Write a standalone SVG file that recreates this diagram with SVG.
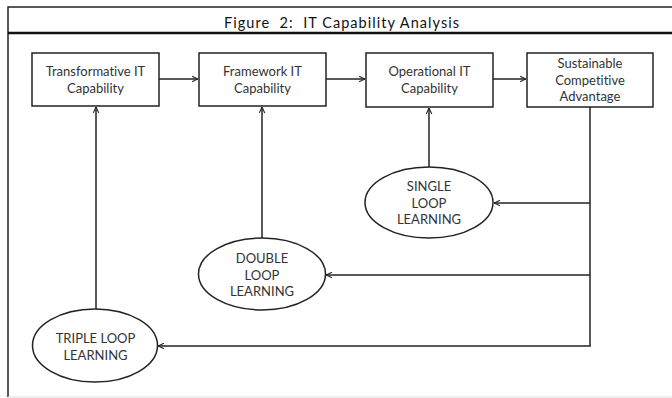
<svg xmlns="http://www.w3.org/2000/svg" width="672" height="398" viewBox="0 0 672 398">
<style>
text{font-family:Lato,"Liberation Sans",Arial,sans-serif;font-size:13px;fill:#333;text-anchor:middle;font-variant-ligatures:none}
.box{fill:#fff;stroke:#222;stroke-width:1.5}
.conn{fill:none;stroke:#222;stroke-width:1.5}
.title{font-size:14.5px;fill:#111;white-space:pre}
</style>
<defs>
<marker id="arr" viewBox="0 0 10 10" refX="9.5" refY="5" markerWidth="7" markerHeight="7" orient="auto" markerUnits="userSpaceOnUse">
<path d="M1,1 L9.5,5 L1,9" fill="none" stroke="#222" stroke-width="1.5"/>
</marker>
</defs>
<rect width="672" height="398" fill="#fff"/>
<g id="frame">
<path d="M8,397 L8,7 L672,7" fill="none" stroke="#222" stroke-width="1.5"/>
<line x1="8" y1="33" x2="672" y2="33" stroke="#111" stroke-width="2.5"/>
<line x1="8" y1="397" x2="672" y2="397" stroke="#ddd" stroke-width="1"/>
<text class="title" x="341.5" y="28" xml:space="preserve" textLength="235" lengthAdjust="spacing">Figure  2:  IT Capability Analysis</text>
</g>
<g id="connectors">
<line class="conn" x1="159" y1="79" x2="198" y2="79" marker-end="url(#arr)"/>
<line class="conn" x1="326" y1="79" x2="365" y2="79" marker-end="url(#arr)"/>
<line class="conn" x1="493" y1="79" x2="526" y2="79" marker-end="url(#arr)"/>
<line class="conn" x1="96" y1="309" x2="96" y2="107" marker-end="url(#arr)"/>
<line class="conn" x1="262" y1="238" x2="262" y2="107" marker-end="url(#arr)"/>
<line class="conn" x1="429" y1="167" x2="429" y2="108" marker-end="url(#arr)"/>
<line class="conn" x1="590" y1="107" x2="590" y2="346"/>
<line class="conn" x1="590" y1="203" x2="494" y2="203" marker-end="url(#arr)"/>
<line class="conn" x1="590" y1="275" x2="326" y2="275" marker-end="url(#arr)"/>
<line class="conn" x1="590.75" y1="346" x2="158" y2="346" marker-end="url(#arr)"/>
</g>
<g id="transformative">
<rect class="box" x="32" y="53" width="127" height="53"/>
<text x="95.5" y="76">Transformative IT</text>
<text x="95.5" y="93">Capability</text>
</g>
<g id="framework">
<rect class="box" x="199" y="53" width="127" height="53"/>
<text x="262.5" y="76">Framework IT</text>
<text x="262.5" y="93">Capability</text>
</g>
<g id="operational">
<rect class="box" x="366" y="53" width="127" height="54"/>
<text x="429.5" y="76">Operational IT</text>
<text x="429.5" y="93">Capability</text>
</g>
<g id="sustainable">
<rect class="box" x="527" y="53" width="126" height="54"/>
<text x="590" y="68">Sustainable</text>
<text x="590" y="85">Competitive</text>
<text x="590" y="101">Advantage</text>
</g>
<g id="single">
<ellipse class="box" cx="429" cy="202.5" rx="64" ry="35.5"/>
<text x="429" y="191">SINGLE</text>
<text x="429" y="207.5">LOOP</text>
<text x="429" y="224">LEARNING</text>
</g>
<g id="double">
<ellipse class="box" cx="262" cy="274" rx="63.5" ry="36"/>
<text x="262" y="263">DOUBLE</text>
<text x="262" y="279.5">LOOP</text>
<text x="262" y="296">LEARNING</text>
</g>
<g id="triple">
<ellipse class="box" cx="95" cy="345.5" rx="62.5" ry="36.5"/>
<text x="95.5" y="343">TRIPLE LOOP</text>
<text x="95.5" y="359.5">LEARNING</text>
</g>
</svg>
